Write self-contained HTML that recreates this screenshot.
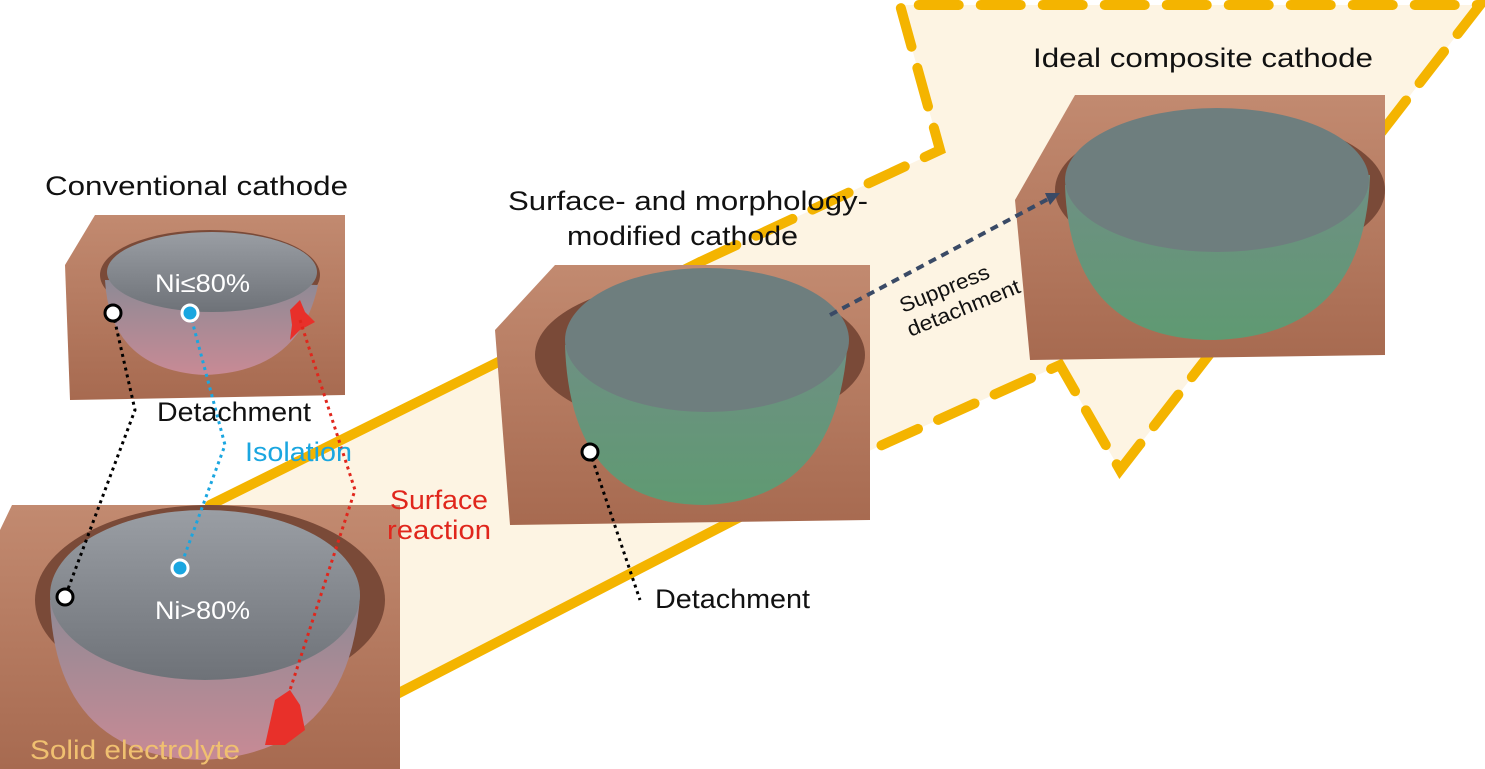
<!DOCTYPE html>
<html><head><meta charset="utf-8"><style>
html,body{margin:0;padding:0;background:#fff;}
svg{display:block;font-family:"Liberation Sans",sans-serif;}
</style></head><body>
<svg width="1485" height="769" viewBox="0 0 1485 769" xmlns="http://www.w3.org/2000/svg">
<defs>
<linearGradient id="brown" x1="0" y1="0" x2="0" y2="1"><stop offset="0" stop-color="#c28a70"/><stop offset="1" stop-color="#a76a50"/></linearGradient>
<linearGradient id="gray" x1="0" y1="0" x2="0" y2="1"><stop offset="0" stop-color="#9a9ea4"/><stop offset="1" stop-color="#6e7278"/></linearGradient>
<linearGradient id="red" x1="0" y1="0" x2="0" y2="1"><stop offset="0" stop-color="#8d8a95"/><stop offset="1" stop-color="#c88a95"/></linearGradient>
<linearGradient id="green" x1="0" y1="0" x2="0" y2="1"><stop offset="0" stop-color="#6f8f84"/><stop offset="1" stop-color="#5f9a72"/></linearGradient>
</defs>
<polygon points="210,505 700,262 940,150 900,5 1480,5 1120,470 1060,365 860,455 395,695" fill="#fdf4e3"/>
<g stroke="#f4b400" stroke-width="10" fill="none" stroke-linecap="round">
<line x1="210" y1="505" x2="700" y2="262"/>
<line x1="395" y1="695" x2="860" y2="455"/>
<polyline points="700,262 940,150 900,5 1480,5 1120,470 1060,365 860,455" stroke-dasharray="40,22"/>
</g>
<polygon points="95,215 345,215 345,395 70,400 65,265" fill="url(#brown)"/>
<ellipse cx="210" cy="275" rx="110" ry="45" fill="#7a4a38"/>
<path d="M105,280 Q110,370 205,375 Q300,372 318,285 Z" fill="url(#red)"/>
<ellipse cx="212" cy="272" rx="105" ry="40" fill="url(#gray)"/>
<polygon points="12,505 400,505 400,769 0,769 0,530" fill="url(#brown)"/>
<ellipse cx="210" cy="600" rx="175" ry="95" fill="#7a4a38"/>
<path d="M50,600 Q55,755 200,760 Q350,755 360,595 Z" fill="url(#red)"/>
<ellipse cx="205" cy="595" rx="155" ry="85" fill="url(#gray)"/>
<polygon points="555,265 870,265 870,520 510,525 495,330" fill="url(#brown)"/>
<ellipse cx="700" cy="355" rx="165" ry="75" fill="#7a4a38"/>
<path d="M565,345 Q570,505 705,505 Q840,500 848,335 Z" fill="url(#green)"/>
<ellipse cx="707" cy="340" rx="142" ry="72" fill="#6e7e7e"/>
<polygon points="1075,95 1385,95 1385,355 1030,360 1015,200" fill="url(#brown)"/>
<ellipse cx="1220" cy="190" rx="165" ry="75" fill="#7a4a38"/>
<path d="M1065,185 Q1070,340 1215,340 Q1365,335 1370,175 Z" fill="url(#green)"/>
<ellipse cx="1217" cy="180" rx="152" ry="72" fill="#6e7e7e"/>
<polygon points="290,310 300,300 305,312 315,322 300,330 290,340 292,325" fill="#e8302a"/>
<polygon points="265,745 275,700 290,690 300,705 305,730 285,745" fill="#e8302a"/>
<g fill="none" stroke-width="3" stroke-dasharray="3,4">
<polyline points="113,313 135,410 65,597" stroke="#000"/>
<polyline points="190,313 225,445 180,568" stroke="#1aa6e0"/>
<polyline points="300,320 355,490 290,690" stroke="#e0261c"/>
<line x1="590" y1="452" x2="640" y2="600" stroke="#000"/>
</g>
<line x1="830" y1="315" x2="1050" y2="198" stroke="#3a4a66" stroke-width="4" stroke-dasharray="8,6"/>
<polygon points="1060,193 1045,193 1050,205" fill="#3a4a66"/>
<g stroke="#000" stroke-width="3">
<circle cx="113" cy="313" r="8" fill="#fff"/>
<circle cx="190" cy="313" r="8" fill="#1aa6e0" stroke="#fff"/>
<circle cx="180" cy="568" r="8" fill="#1aa6e0" stroke="#fff"/>
<circle cx="65" cy="597" r="8" fill="#fff"/>
<circle cx="590" cy="452" r="8" fill="#fff"/>
</g>
<g font-size="27" fill="#111">
<text x="45" y="195" textLength="303" lengthAdjust="spacingAndGlyphs">Conventional cathode</text>
<text x="157" y="421" textLength="154" lengthAdjust="spacingAndGlyphs">Detachment</text>
<text x="508" y="210" textLength="360" lengthAdjust="spacingAndGlyphs">Surface- and morphology-</text>
<text x="567" y="245" textLength="231" lengthAdjust="spacingAndGlyphs">modified cathode</text>
<text x="655" y="608" textLength="155" lengthAdjust="spacingAndGlyphs">Detachment</text>
<text x="1033" y="67" textLength="340" lengthAdjust="spacingAndGlyphs">Ideal composite cathode</text>
</g>
<text x="155" y="292" font-size="25" fill="#fff" textLength="95" lengthAdjust="spacingAndGlyphs">Ni≤80%</text>
<text x="155" y="619" font-size="25" fill="#fff" textLength="95" lengthAdjust="spacingAndGlyphs">Ni&gt;80%</text>
<text x="245" y="461" font-size="27" fill="#1aa6e0" textLength="107" lengthAdjust="spacingAndGlyphs">Isolation</text>
<text x="390" y="509" font-size="27" fill="#e0261c" textLength="98" lengthAdjust="spacingAndGlyphs">Surface</text>
<text x="387" y="539" font-size="27" fill="#e0261c" textLength="104" lengthAdjust="spacingAndGlyphs">reaction</text>
<text x="30" y="759" font-size="27" fill="#f0c070" textLength="210" lengthAdjust="spacingAndGlyphs">Solid electrolyte</text>
<g transform="translate(903,313) rotate(-22)" font-size="21" fill="#111">
<text x="0" y="0" textLength="95" lengthAdjust="spacingAndGlyphs">Suppress</text>
<text x="-2" y="25" textLength="120" lengthAdjust="spacingAndGlyphs">detachment</text>
</g>
</svg>
</body></html>
